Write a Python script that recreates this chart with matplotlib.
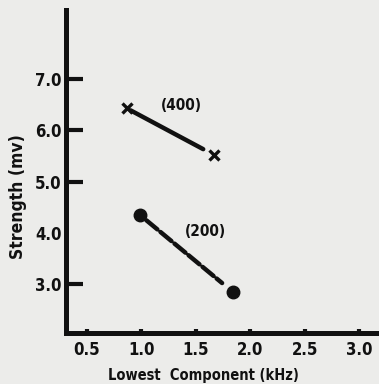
import matplotlib
matplotlib.use("Agg")
import matplotlib.pyplot as plt
from matplotlib import font_manager

# Data
x_400 = [0.87, 1.67]
y_400 = [6.43, 5.52]
x_200 = [0.99, 1.84]
y_200 = [4.35, 2.85]
label_400 = "(400)"
label_200 = "(200)"
label_400_pos = (1.37, 6.49)
label_200_pos = (1.59, 4.02)
xticks = [0.5, 1.0, 1.5, 2.0, 2.5, 3.0]
xticklabels = ["0.5", "1.0", "1.5", "2.0", "2.5", "3.0"]
yticks = [3.0, 4.0, 5.0, 6.0, 7.0]
yticklabels = ["3.0", "4.0", "5.0", "6.0", "7.0"]
xlabel = "Lowest  Component (kHz)"
ylabel = "Strength (mv)"

# pick a condensed bold face if available
names = {f.name for f in font_manager.fontManager.ttflist}
stretches = {(f.name, f.stretch) for f in font_manager.fontManager.ttflist}
if "Liberation Sans Narrow" in names:
    font = dict(family="Liberation Sans Narrow", weight="bold")
elif ("DejaVu Sans", "condensed") in stretches or ("DejaVu Sans", 300) in stretches:
    font = dict(family="DejaVu Sans", weight="bold", stretch="condensed")
else:
    font = dict(family="DejaVu Sans", weight="bold")

bg = "#ececea"
ink = "#111111"

fig = plt.figure(figsize=(3.79, 3.84), dpi=100, facecolor=bg)
ax = fig.add_axes([0.174, 0.133, 0.826, 0.841], facecolor=bg)
ax.set_xlim(0.311, 3.18)
ax.set_ylim(2.05, 8.35)

for s in ["top", "right"]:
    ax.spines[s].set_visible(False)
for s in ["left", "bottom"]:
    ax.spines[s].set_linewidth(3.6)
    ax.spines[s].set_color(ink)
    ax.spines[s].set_capstyle("projecting")

ax.set_xticks(xticks)
ax.set_xticklabels(xticklabels, fontsize=12, **font)
ax.set_yticks(yticks)
ax.set_yticklabels(yticklabels, fontsize=12, **font)
ax.tick_params(axis="x", direction="in", length=3, width=3, color=ink, pad=6)
ax.tick_params(axis="y", direction="in", length=12, width=3, color=ink, pad=3)
# 4.0 has no tick mark in the original
ax.yaxis.get_major_ticks()[1].tick1line.set_visible(False)
for t in ax.get_xticklabels() + ax.get_yticklabels():
    t.set_color(ink)

ax.set_xlabel(xlabel, fontsize=10.5, color=ink, **font)
ax.xaxis.label.set_va("center")
ax.xaxis.set_label_coords(0.438, -0.133)
ax.set_ylabel(ylabel, fontsize=12.5, color=ink, **font)
ax.yaxis.label.set_va("center")
ax.yaxis.set_label_coords(-0.153, 0.421)

# (400) series: crosses joined by a solid line
ax.plot(x_400, y_400, linestyle="none", marker="x", markersize=7,
        markeredgewidth=2.4, color=ink)
ax.annotate("", xy=(x_400[1], y_400[1]), xytext=(x_400[0], y_400[0]),
            arrowprops=dict(arrowstyle="-", lw=3.2, color=ink,
                            shrinkA=3, shrinkB=9))
ax.text(*label_400_pos, label_400, fontsize=11,
        color=ink, ha="center", va="center", **font)

# (200) series: dots joined by a dashed line
ax.plot(x_200, y_200, linestyle="none", marker="o", markersize=9,
        color=ink)
ax.annotate("", xy=(x_200[1], y_200[1]), xytext=(x_200[0], y_200[0]),
            arrowprops=dict(arrowstyle="-", lw=3.2, color=ink,
                            linestyle=(0, (3.2, 0.9)),
                            shrinkA=6, shrinkB=10))
ax.text(*label_200_pos, label_200, fontsize=11,
        color=ink, ha="center", va="center", **font)

fig.savefig("out.png", dpi=100, facecolor=bg)
